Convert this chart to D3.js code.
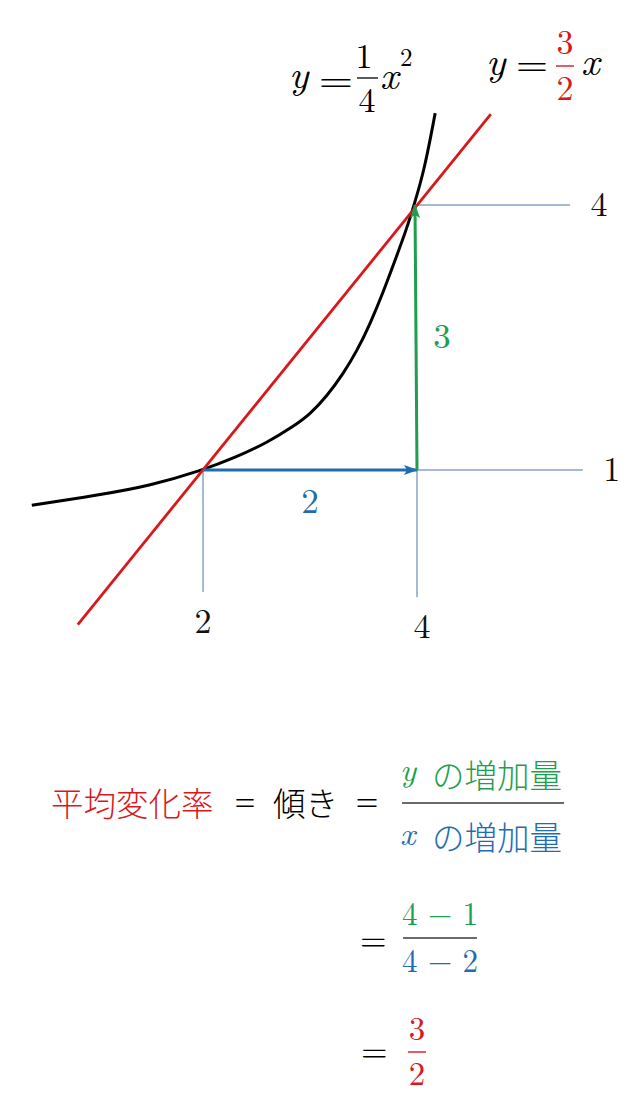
<!DOCTYPE html>
<html><head><meta charset="utf-8">
<script src="https://cdn.jsdelivr.net/npm/d3@7"></script>
<style>
html,body{margin:0;padding:0;background:#fff;}
svg{display:block;}
</style></head>
<body>
<script>
// ---- data ----
const curveX = [0.40, 1.04, 1.50, 2.00, 2.30, 2.60, 2.84, 3.00, 3.16, 3.31, 3.44, 3.56, 3.68, 3.80, 3.90, 3.97, 4.07, 4.17];
const curveY = [0.60, 0.72, 0.82, 1.00, 1.14, 1.31, 1.49, 1.63, 1.84, 2.09, 2.35, 2.65, 3.00, 3.39, 3.72, 3.99, 4.40, 5.04];
const secantX = [0.83, 4.69];
const secantY = [-0.75, 5.03];
const pointA = [2, 1];
const pointB = [4, 4];
const xTicks = [2, 4];
const xTickLabels = ["2", "4"];
const xGuideEnd = [-0.38, -0.44];
const yTicks = [1, 4];
const yTickLabels = ["1", "4"];
const yGuideEnd = [5.55, 5.43];
const dxLabel = "2";
const dyLabel = "3";

const W = 634, H = 1111;
const RED = "#d8191c", GREEN = "#1f9e4f", BLUE = "#1f6db0", GUIDE = "#4f72a6", BAR = "#3a3a3a";
const SERIF = '"Latin Modern Roman", "Liberation Serif", serif';
const CJK = '"Noto Sans CJK JP", "Noto Sans CJK SC", sans-serif';

const svg = d3.select("body").append("svg").attr("width", W).attr("height", H);
svg.append("rect").attr("width", W).attr("height", H).attr("fill", "#fff");

const xScale = d3.scaleLinear().domain([2, 4]).range([203, 417]);
const yScale = d3.scaleLinear().domain([1, 4]).range([470, 205]);

// markers
const defs = svg.append("defs");
function marker(id, color) {
  defs.append("marker").attr("id", id)
    .attr("markerUnits", "userSpaceOnUse")
    .attr("viewBox", "0 0 14 10").attr("markerWidth", 14).attr("markerHeight", 10)
    .attr("refX", 13).attr("refY", 5).attr("orient", "auto")
    .append("path").attr("d", "M0,0 L14,5 L0,10 L3,5 Z").attr("fill", color);
}
marker("arrBlue", BLUE);
marker("arrGreen", GREEN);

// guide lines
const g = svg.append("g");
g.selectAll(".vguide").data(xTicks).join("line")
  .attr("x1", d => xScale(d)).attr("x2", d => xScale(d))
  .attr("y1", yScale(pointA[1])).attr("y2", (d, i) => yScale(xGuideEnd[i]))
  .attr("stroke", GUIDE).attr("stroke-width", 1);
g.selectAll(".hguide").data(yTicks).join("line")
  .attr("y1", d => yScale(d)).attr("y2", d => yScale(d))
  .attr("x1", xScale(pointB[0])).attr("x2", (d, i) => xScale(yGuideEnd[i]))
  .attr("stroke", GUIDE).attr("stroke-width", 1);

// tick labels
g.selectAll(".xt").data(xTicks).join("text")
  .style("font-family", SERIF)
  .attr("x", (d, i) => xScale(d) + (i === 1 ? 5 : 0))
  .attr("y", (d, i) => yScale(xGuideEnd[i]) + 41)
  .attr("text-anchor", "middle")
  .attr("font-size", 34).attr("fill", "#111")
  .text((d, i) => xTickLabels[i]);
g.selectAll(".yt").data(yTicks).join("text")
  .style("font-family", SERIF)
  .attr("x", (d, i) => xScale(yGuideEnd[i]) + 29)
  .attr("y", d => yScale(d) + 11)
  .attr("text-anchor", "middle")
  .attr("font-size", 34).attr("fill", "#111")
  .text((d, i) => yTickLabels[i]);

// curve
const curvePts = curveX.map((x, i) => [x, curveY[i]]);
const line = d3.line().x(d => xScale(d[0])).y(d => yScale(d[1])).curve(d3.curveBasis);
g.append("path").attr("d", line(curvePts)).attr("fill", "none").attr("stroke", "#000").attr("stroke-width", 3);

// secant
const secPts = secantX.map((x, i) => [x, secantY[i]]);
g.append("path").attr("d", d3.line().x(d => xScale(d[0])).y(d => yScale(d[1]))(secPts))
  .attr("fill", "none").attr("stroke", RED).attr("stroke-width", 2.8);

// arrows
g.append("line")
  .attr("x1", xScale(pointA[0])).attr("y1", yScale(pointA[1]))
  .attr("x2", xScale(pointB[0])).attr("y2", yScale(pointA[1]))
  .attr("stroke", BLUE).attr("stroke-width", 3).attr("marker-end", "url(#arrBlue)");
g.append("line")
  .attr("x1", xScale(pointB[0])).attr("y1", yScale(pointA[1]))
  .attr("x2", xScale(pointB[0]) - 2).attr("y2", yScale(pointB[1]))
  .attr("stroke", GREEN).attr("stroke-width", 3).attr("marker-end", "url(#arrGreen)");

// delta labels
g.append("text").style("font-family", SERIF)
  .attr("x", (xScale(pointA[0]) + xScale(pointB[0])) / 2).attr("y", yScale(pointA[1]) + 43)
  .attr("text-anchor", "middle").attr("font-size", 35).attr("fill", BLUE).text(dxLabel);
g.append("text").style("font-family", SERIF)
  .attr("x", xScale(pointB[0]) + 25).attr("y", (yScale(pointA[1]) + yScale(pointB[1])) / 2 + 10)
  .attr("text-anchor", "middle").attr("font-size", 35).attr("fill", GREEN).text(dyLabel);

// ---- formulas ----
function txt(x, y, s, opts = {}) {
  const t = svg.append("text").attr("x", x).attr("y", y)
    .style("font-family", opts.cjk ? CJK : SERIF)
    .attr("font-size", opts.size || 34)
    .attr("fill", opts.fill || "#000")
    .attr("text-anchor", opts.anchor || "start")
    .text(s);
  if (opts.italic) t.style("font-style", "italic");
  if (opts.weight) t.style("font-weight", opts.weight);
  if (opts.len) t.attr("textLength", opts.len).attr("lengthAdjust", "spacingAndGlyphs");
  if (opts.db) t.attr("dominant-baseline", opts.db);
  return t;
}
function bar(x1, x2, y, color, w) {
  svg.append("line").attr("x1", x1).attr("x2", x2).attr("y1", y).attr("y2", y)
    .attr("stroke", color).attr("stroke-width", w || 1.4);
}

// y = 1/4 x^2
txt(289, 88, "y", {italic: true, size: 40});
txt(319, 92, "=", {size: 36, len: 34});
txt(364, 68, "1", {anchor: "middle", size: 34});
bar(357, 378, 78, "#000", 1.3);
txt(367, 112, "4", {anchor: "middle", size: 34});
txt(380, 89, "x", {italic: true, size: 40});
txt(400, 66, "2", {size: 25});

// y = 3/2 x
txt(486, 75, "y", {italic: true, size: 40});
txt(516, 76, "=", {size: 36, len: 32});
txt(565, 54, "3", {anchor: "middle", size: 34, fill: RED});
bar(556, 574, 66, RED, 1.4);
txt(565, 100, "2", {anchor: "middle", size: 34, fill: RED});
txt(581, 75, "x", {italic: true, size: 40});

// 平均変化率 = 傾き = y の増加量 / x の増加量
txt(51, 801, "平均変化率", {cjk: true, size: 32.5, fill: RED, db: "central", weight: 300});
txt(235, 801, "=", {cjk: true, size: 30, db: "central", len: 20, weight: 300});
txt(273, 801, "傾き", {cjk: true, size: 32.5, db: "central", weight: 300});
txt(356, 801, "=", {cjk: true, size: 30, db: "central", len: 22, weight: 300});

txt(400, 781, "y", {italic: true, size: 33, fill: GREEN});
txt(432, 773, "の増加量", {cjk: true, size: 32.5, fill: GREEN, db: "central", weight: 300});
bar(402, 564, 803, BAR, 1.6);
txt(400, 845, "x", {italic: true, size: 33, fill: BLUE});
txt(432, 835, "の増加量", {cjk: true, size: 32.5, fill: BLUE, db: "central", weight: 300});

// = (4-1)/(4-2)
txt(360, 951, "=", {size: 34});
txt(402, 925, "4 \u2212 1", {size: 33, fill: GREEN, len: 76});
bar(403, 477, 938, BAR, 1.6);
txt(402, 972, "4 \u2212 2", {size: 33, fill: BLUE, len: 76});

// = 3/2
txt(361, 1062, "=", {size: 34});
txt(417, 1040, "3", {anchor: "middle", size: 33, fill: RED});
bar(408, 426, 1052, RED, 1.4);
txt(417, 1085, "2", {anchor: "middle", size: 33, fill: RED});
</script>
</body></html>
